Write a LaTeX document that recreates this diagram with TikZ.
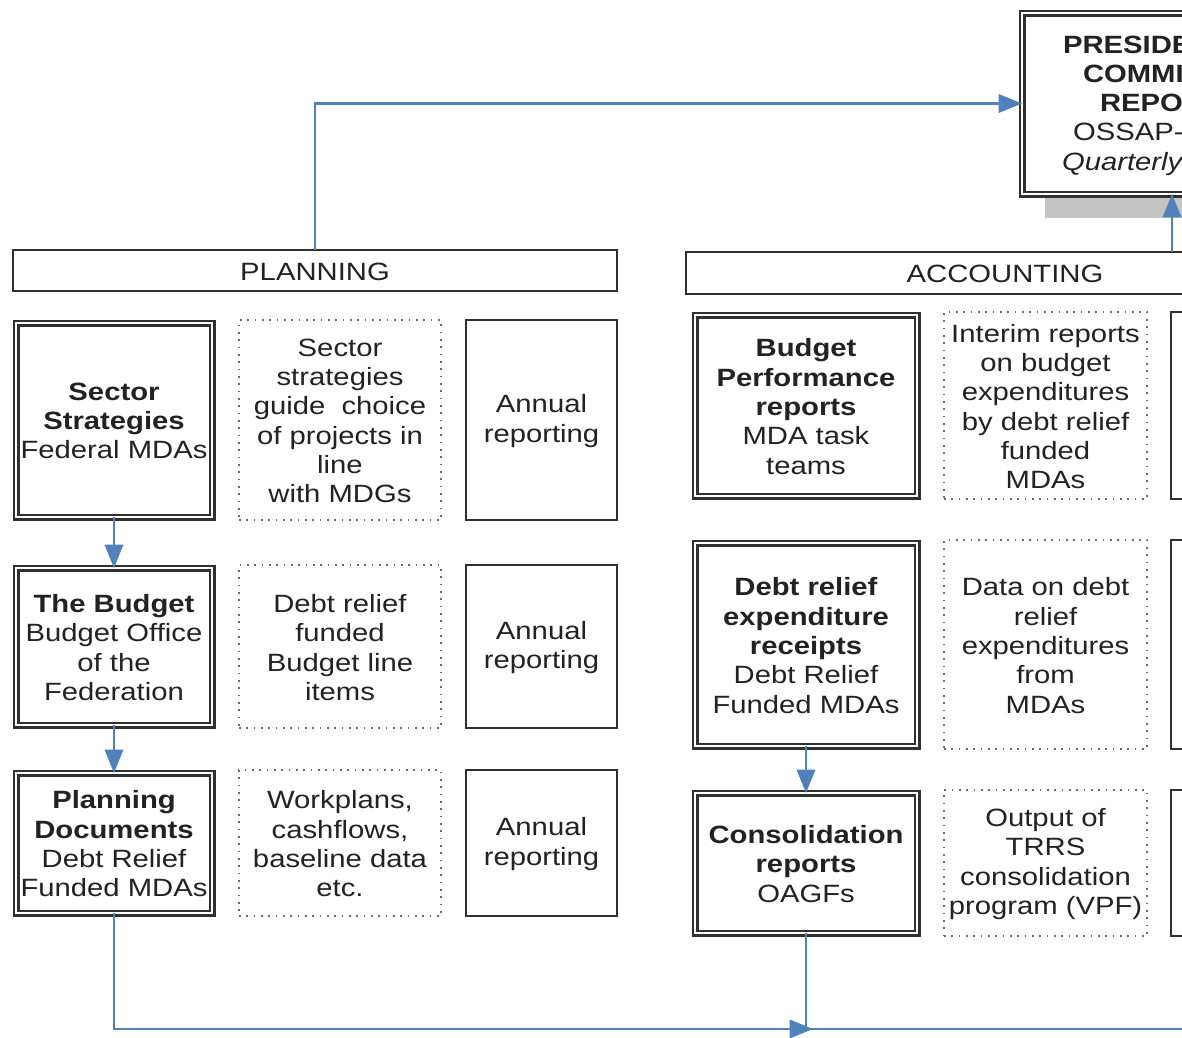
\documentclass[tikz,border=0pt]{standalone}
\usepackage{fontspec}
\setmainfont{Liberation Sans}[FakeStretch=1.17]
\usetikzlibrary{fit,arrows.meta}
\definecolor{bord}{HTML}{303030}
\definecolor{txt}{HTML}{222222}
\definecolor{dotc}{HTML}{6A6A6A}
\definecolor{arrowc}{HTML}{4F81BD}
\definecolor{shadowgrey}{HTML}{C4C4C4}
\tikzset{
  base/.style={inner sep=0pt, outer sep=0pt, align=center, text=txt, font=\fontsize{15}{17.6}\selectfont},
  dblbox/.style={base, draw=bord, line width=1.25pt, double=white, double distance=1.7pt},
  solidbox/.style={base, draw=bord, line width=1.35pt},
  headbox/.style={base, draw=bord, line width=1.35pt},
  dotbox/.style={base, draw=dotc, line width=1pt, dash pattern=on 1pt off 3.4pt},
  frag/.style={base, anchor=base west},
  conn/.style={draw=arrowc, line width=1.4pt},
  arr/.style={conn, -{Triangle[length=14pt, width=11pt]}},
}
\newcommand\btext[2]{\node[base] (#1-t) at ([yshift=-0.6pt]#1.center) {#2};}
\begin{document}
\begin{tikzpicture}[x=0.6pt,y=-0.6pt]
\useasboundingbox (0,0) rectangle (1182,1038);
\clip (0,0) rectangle (1182,1038);
\fill[white] (0,0) rectangle (1182,1038);

% top box with shadow
\fill[shadowgrey] (1045,40) rectangle (1330,218);
\node[dblbox, fill=white, fit={(1022,13) (1317,194)}] (pres) {};
\node[frag] (p1) at (1063,53) {\textbf{PRESIDE}};
\node[frag] (p2) at (1083,82.3) {\textbf{COMMI}};
\node[frag] (p3) at (1100,111.6) {\textbf{REPO}};
\node[frag] (p4) at (1073,140.9) {OSSAP-};
\node[frag] (p5) at (1062,170.2) {\textit{Quarterly}};

% headers
\node[headbox, fit={(13,250) (617,291)}] (plan) {};
\btext{plan}{PLANNING}
\node[headbox, fit={(686,252) (1324,294)}] (acc) {};
\node[base] (acc-t) at ([yshift=-0.6pt]1005,273) {ACCOUNTING};

% planning column
\node[dblbox, fit={(16,323) (212,517)}] (ss) {};
\btext{ss}{\textbf{Sector}\\\textbf{Strategies}\\Federal MDAs}
\node[dotbox, fit={(239,320) (441,520)}] (sd1) {};
\btext{sd1}{Sector\\strategies\\guide\ \ choice\\of projects in\\line\\with MDGs}
\node[solidbox, fit={(466,320) (617,520)}] (sa1) {};
\btext{sa1}{Annual\\reporting}

\node[dblbox, fit={(16,568) (212,725)}] (tb) {};
\btext{tb}{\textbf{The Budget}\\Budget Office\\of the\\Federation}
\node[dotbox, fit={(239,565) (441,728)}] (sd2) {};
\btext{sd2}{Debt relief\\funded\\Budget line\\items}
\node[solidbox, fit={(466,565) (617,728)}] (sa2) {};
\btext{sa2}{Annual\\reporting}

\node[dblbox, fit={(16,773) (212,913)}] (pd) {};
\btext{pd}{\textbf{Planning}\\\textbf{Documents}\\Debt Relief\\Funded MDAs}
\node[dotbox, fit={(239,770) (441,916)}] (sd3) {};
\btext{sd3}{Workplans,\\cashflows,\\baseline data\\etc.}
\node[solidbox, fit={(466,770) (617,916)}] (sa3) {};
\btext{sa3}{Annual\\reporting}

% accounting column
\node[dblbox, fit={(695,315) (917,496)}] (bp) {};
\btext{bp}{\textbf{Budget}\\\textbf{Performance}\\\textbf{reports}\\MDA task\\teams}
\node[dotbox, fit={(944,312) (1147,499)}] (rd1) {};
\btext{rd1}{Interim reports\\on budget\\expenditures\\by debt relief\\funded\\MDAs}
\node[solidbox, fit={(1171,312) (1300,499)}] (ra1) {};

\node[dblbox, fit={(695,543) (917,746)}] (de) {};
\btext{de}{\textbf{Debt relief}\\\textbf{expenditure}\\\textbf{receipts}\\Debt Relief\\Funded MDAs}
\node[dotbox, fit={(944,540) (1147,749)}] (rd2) {};
\btext{rd2}{Data on debt\\relief\\expenditures\\from\\MDAs}
\node[solidbox, fit={(1171,540) (1300,749)}] (ra2) {};

\node[dblbox, fit={(695,793) (917,933)}] (co) {};
\btext{co}{\textbf{Consolidation}\\\textbf{reports}\\OAGFs}
\node[dotbox, fit={(944,790) (1147,936)}] (rd3) {};
\btext{rd3}{Output of\\TRRS\\consolidation\\program (VPF)}
\node[solidbox, fit={(1171,790) (1300,936)}] (ra3) {};

% connectors
\coordinate (xa) at (1172,0);
\coordinate (junc) at (co.south |- 0,1029);
\coordinate (rend) at (1200,1029);
\draw[arr] (plan.north) |- (pres.west);
\draw[arr] (acc.north -| xa) -- (pres.south -| xa);
\draw[arr] (ss.south) -- (tb.north);
\draw[arr] (tb.south) -- (pd.north);
\draw[arr] (de.south) -- (co.north);
\draw[conn] (co.south) -- (junc);
\draw[conn] (junc) -- (rend);
\draw[arr] (pd.south) |- ([xshift=7*0.6pt]junc);
\end{tikzpicture}
\end{document}
